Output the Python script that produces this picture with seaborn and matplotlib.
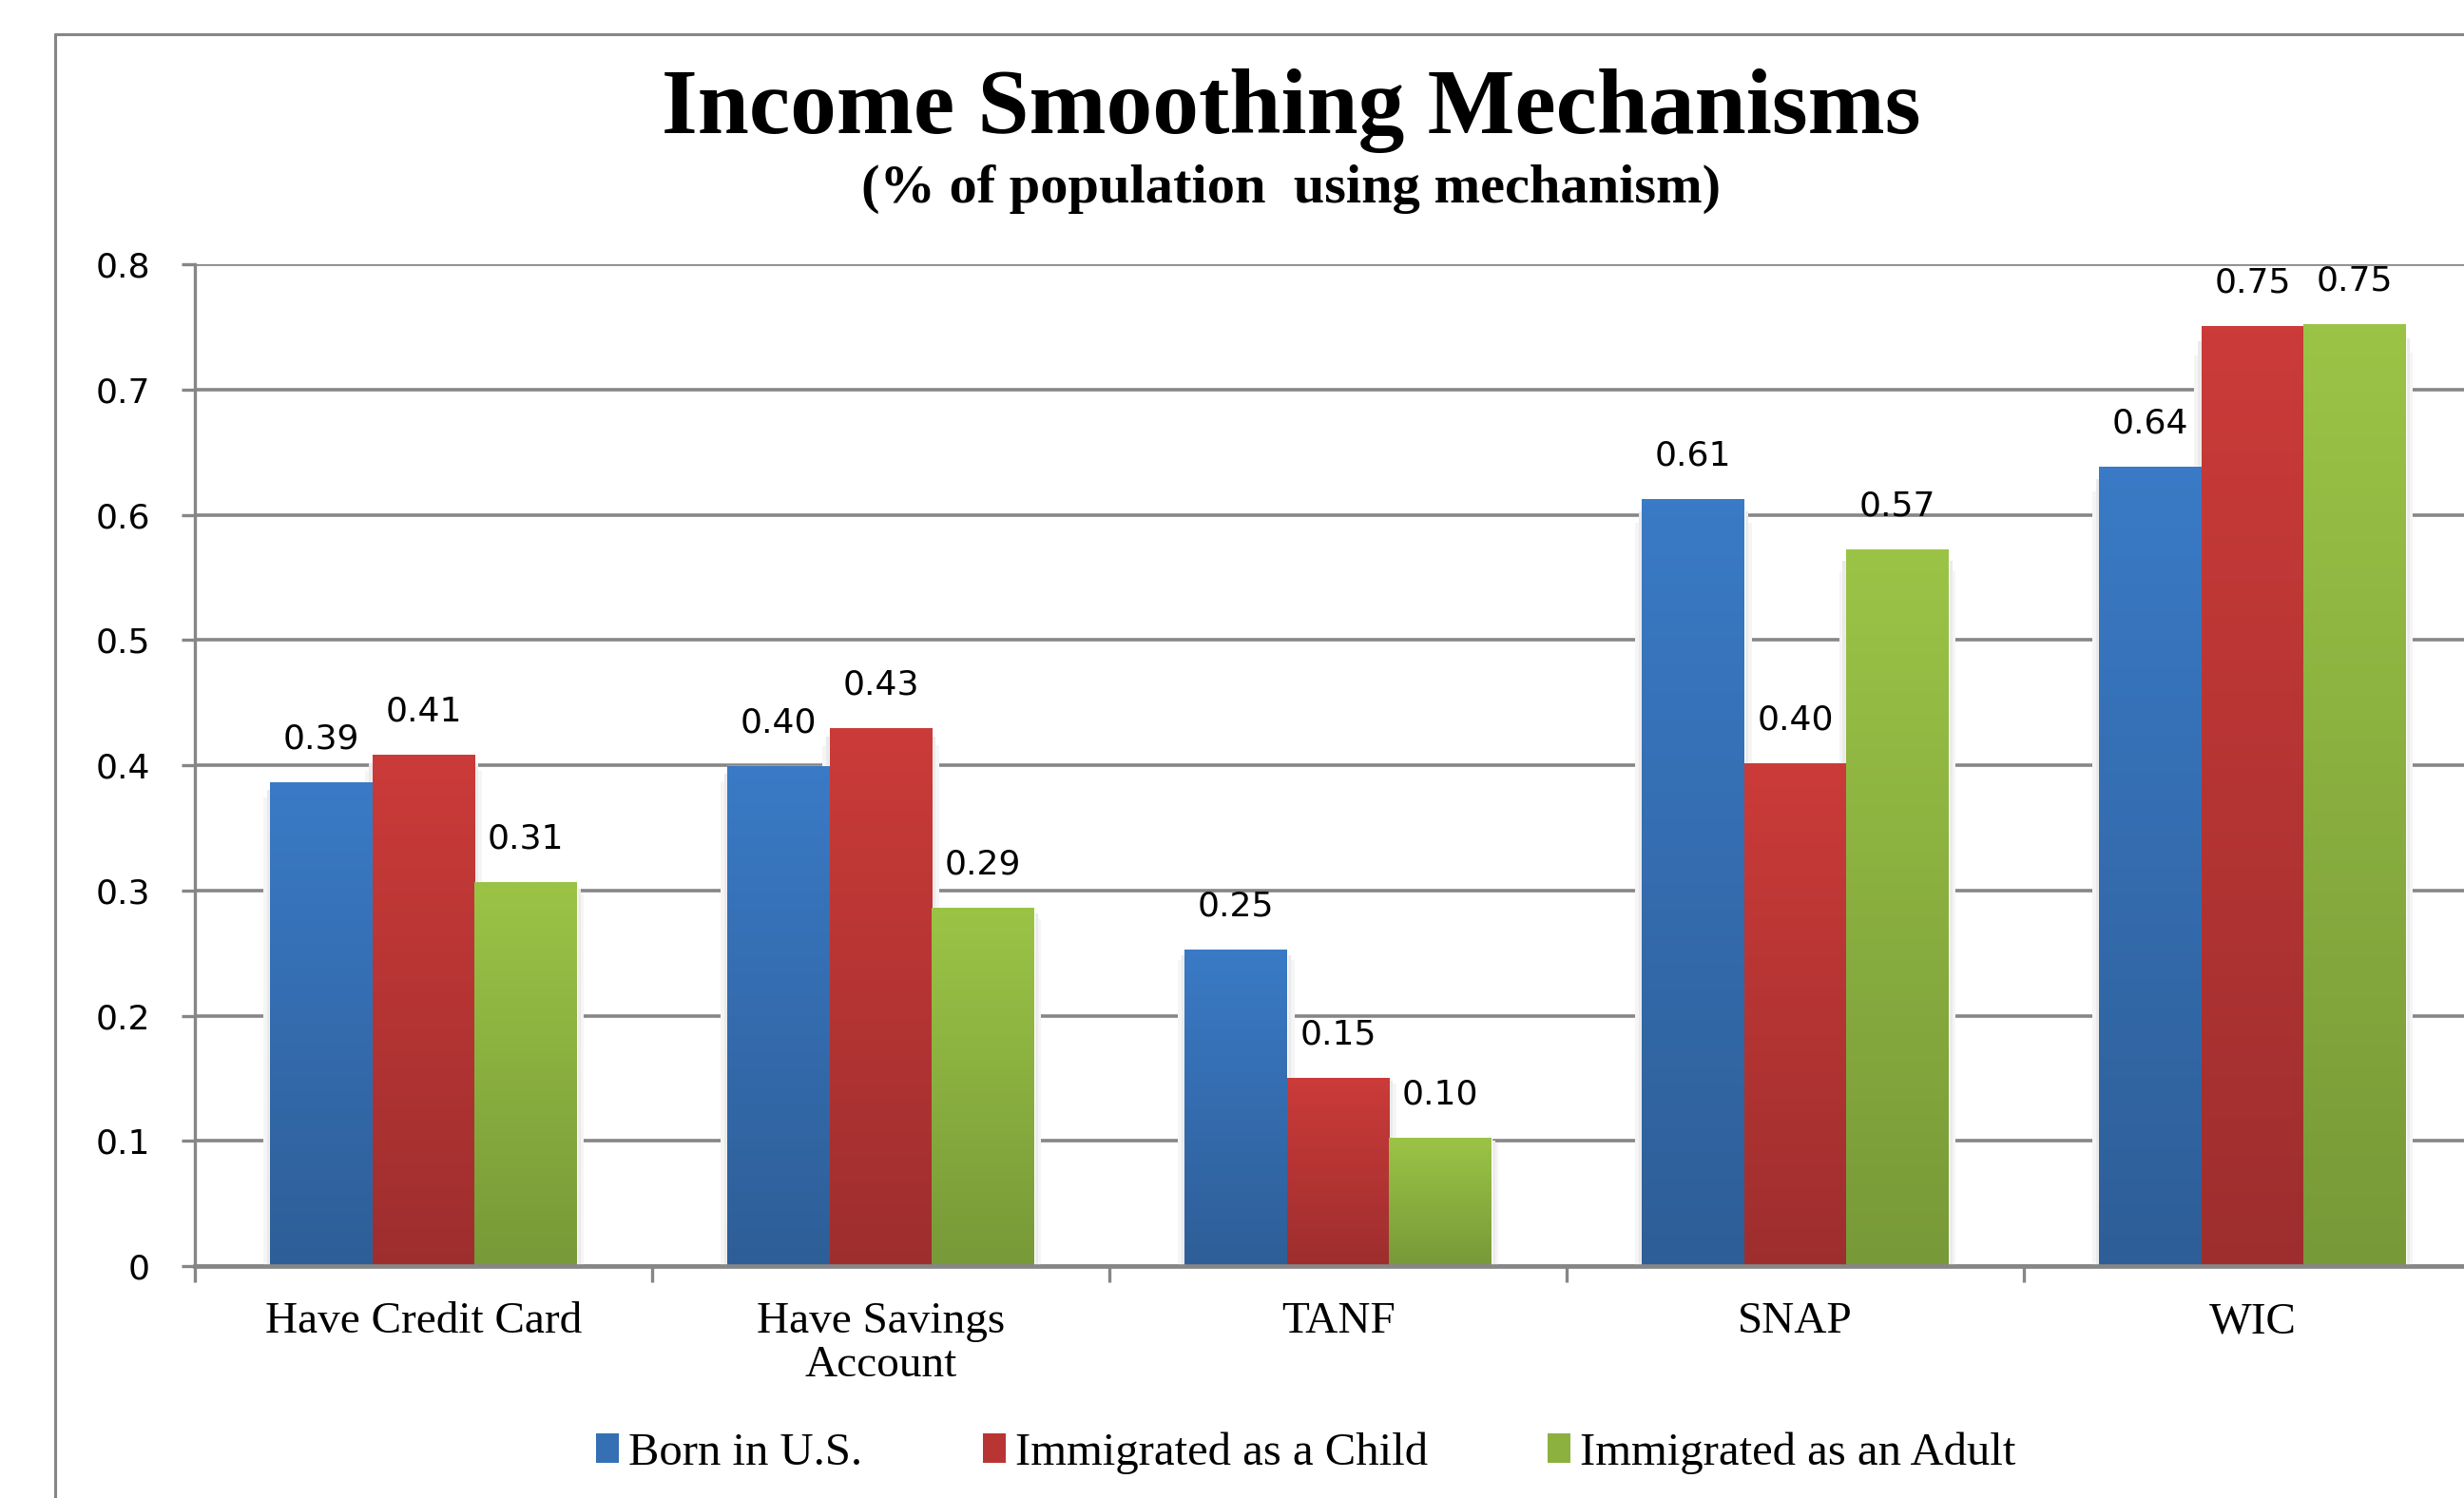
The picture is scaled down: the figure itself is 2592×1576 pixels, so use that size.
import numpy as np
import pandas as pd
import matplotlib
matplotlib.use("Agg")
import matplotlib.pyplot as plt
from matplotlib.colors import LinearSegmentedColormap
from matplotlib.patches import Patch, Rectangle
from matplotlib.lines import Line2D
import seaborn as sns

# data
mechanisms = ["Have Credit Card", "Have Savings\nAccount", "TANF", "SNAP", "WIC"]
groups = ["Born in U.S.", "Immigrated as a Child", "Immigrated as an Adult"]
born_us = [0.386, 0.399, 0.252, 0.612, 0.638]
imm_child = [0.408, 0.429, 0.150, 0.401, 0.750]
imm_adult = [0.306, 0.286, 0.102, 0.572, 0.752]
yticks = [0, 0.1, 0.2, 0.3, 0.4, 0.5, 0.6, 0.7, 0.8]
ytick_labels = ["0", "0.1", "0.2", "0.3", "0.4", "0.5", "0.6", "0.7", "0.8"]

# gradient colours (top, bottom) per series
tops = ["#3A7AC6", "#CB3B39", "#9BC446"]
bottoms = ["#2E5E97", "#9E2E2E", "#789938"]
mids = ["#3570B5", "#B93534", "#8CB13F"]

df = pd.DataFrame({
    "Mechanism": mechanisms * 3,
    "Group": [groups[0]] * 5 + [groups[1]] * 5 + [groups[2]] * 5,
    "Share": born_us + imm_child + imm_adult,
})

sns.set_style("white")
plt.rcParams['font.family'] = ['DejaVu Sans']
plt.rcParams['text.color'] = 'black'
plt.rcParams['xtick.labelcolor'] = 'black'
plt.rcParams['ytick.labelcolor'] = 'black'
grey = "#868686"

fig = plt.figure(figsize=(25.92, 15.76), dpi=100)
ax = fig.add_axes([0.0791, 0.1548, 0.9279, 0.6688])

sns.barplot(data=df, x="Mechanism", y="Share", hue="Group", palette=mids,
            width=0.67, saturation=1, legend=False, ax=ax, zorder=2)

ax.set_xlim(-0.5, 4.5)
ax.set_ylim(0, 0.8)

# vertical gradient + soft side shadow on every bar
grad = np.linspace(0, 1, 256).reshape(-1, 1)
sh = 0.016
for i, cont in enumerate(ax.containers):
    cmap = LinearSegmentedColormap.from_list("g%d" % i, [bottoms[i], tops[i]])
    for bar in cont:
        x, w, h = bar.get_x(), bar.get_width(), bar.get_height()
        ax.add_patch(Rectangle((x - sh, 0), w + 2 * sh, h * 0.97, color="#F5F5F5",
                               zorder=1.5, lw=0))
        ax.add_patch(Rectangle((x - sh / 2, 0), w + sh, h * 0.985, color="#EAEAEA",
                               zorder=1.6, lw=0))
        ax.imshow(grad, extent=[x, x + w, 0, h], origin="lower", cmap=cmap,
                  aspect="auto", zorder=2.5, interpolation="bilinear")
    ax.bar_label(cont, fmt="%.2f", padding=21, fontsize=26, color="black",
                 family="DejaVu Sans", zorder=4)

ax.set_xlim(-0.5, 4.5)
ax.set_ylim(0, 0.8)

# grid and axes
ax.set_axisbelow(True)
ax.grid(axis="y", color=grey, lw=2.6, zorder=0)
ax.grid(axis="x", visible=False)
for s in ["top", "right"]:
    ax.spines[s].set_visible(False)
ax.spines["left"].set_color(grey)
ax.spines["left"].set_linewidth(2.4)
ax.spines["bottom"].set_color(grey)
ax.spines["bottom"].set_linewidth(3.4)
ax.spines["bottom"].set_zorder(5)

ax.set_yticks(yticks)
ax.set_yticklabels(ytick_labels, fontsize=26, family="DejaVu Sans")
ax.tick_params(axis="y", length=10, width=2.4, color=grey, pad=24, left=True)

ax.set_xticks(range(len(mechanisms)))
ax.set_xticklabels(mechanisms, fontsize=34, family="Liberation Serif", linespacing=1.1)
ax.tick_params(axis="x", which="major", length=0, pad=27)
ax.set_xticks(np.arange(-0.5, 5.0, 1.0), minor=True)
ax.tick_params(axis="x", which="minor", length=12, width=2.4, color=grey, bottom=True)
ax.set_xlabel("")
ax.set_ylabel("")

# titles
fig.text(0.524, 0.926, "Income Smoothing Mechanisms", ha="center", va="center",
         fontsize=70, fontweight="bold", family="Liberation Serif", color="black")
fig.text(0.524, 0.874, "(% of population  using mechanism)", ha="center", va="center",
         fontsize=42, fontweight="bold", family="Liberation Serif", color="black")

# legend
handles = [Patch(facecolor=mids[i], edgecolor="none") for i in range(3)]
fig.legend(handles, groups, loc="center", bbox_to_anchor=(0.53, 0.030), ncol=3,
           frameon=False, handlelength=0.5, handleheight=0.6, handletextpad=0.2,
           columnspacing=2.6, prop={"family": "Liberation Serif", "size": 35})

# chart area frame (extends past the right and bottom edges)
fig.add_artist(Line2D([0.0224, 0.0224], [-0.01, 0.977], color=grey, lw=2.2,
                      transform=fig.transFigure))
fig.add_artist(Line2D([0.0224, 1.01], [0.977, 0.977], color=grey, lw=2.2,
                      transform=fig.transFigure))

fig.savefig("out.png", dpi=100)
